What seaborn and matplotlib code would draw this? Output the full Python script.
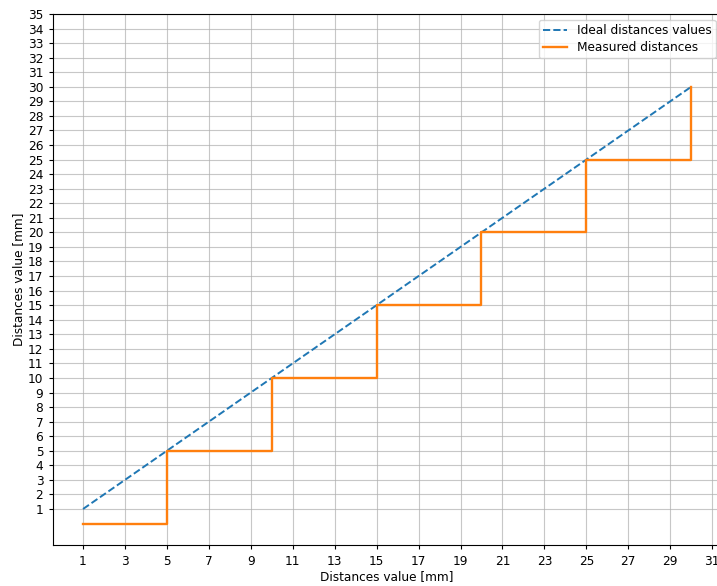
import matplotlib
matplotlib.use("Agg")
import matplotlib.pyplot as plt
import seaborn as sns
import numpy as np

ideal_x = [1, 30]
ideal_y = [1, 30]
meas_x = list(range(1, 31))
meas_y = [0, 0, 0, 0, 5, 5, 5, 5, 5, 10, 10, 10, 10, 10, 15, 15, 15, 15, 15,
          20, 20, 20, 20, 20, 25, 25, 25, 25, 25, 30]
x_ticks = list(range(1, 32, 2))
y_ticks = list(range(1, 36))

plt.rcdefaults()
plt.rcParams["font.size"] = 8.7
plt.rcParams["xtick.major.size"] = 3.2
plt.rcParams["ytick.major.size"] = 3.2
fig = plt.figure(figsize=(7.17, 5.86), dpi=100)
ax = fig.add_axes([0.0734, 0.0693, 0.933, 0.9068])

sns.lineplot(x=ideal_x, y=ideal_y, ax=ax, color="#1f77b4", linestyle="--",
             linewidth=1.4, label="Ideal distances values")
sns.lineplot(x=meas_x, y=meas_y, ax=ax, color="#ff7f0e", linewidth=1.7,
             drawstyle="steps-post", label="Measured distances")

ax.set_xlim(-0.45, 31.45)
ax.set_ylim(-1.5, 35)
ax.set_xticks(x_ticks)
ax.set_yticks(y_ticks)
ax.grid(True, color="#b0b0b0", linewidth=0.8, alpha=0.7)
ax.set_axisbelow(True)
ax.set_xlabel("Distances value [mm]", labelpad=2)
ax.set_ylabel("Distances value [mm]", labelpad=2)
ax.legend(loc="upper right", labelspacing=0.3, borderpad=0.35)

fig.savefig("out.png", dpi=100)
